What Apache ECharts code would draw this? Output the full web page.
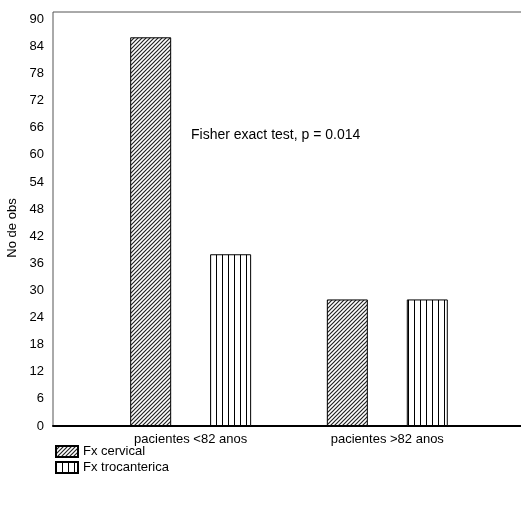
<!DOCTYPE html>
<html>
<head>
<meta charset="utf-8">
<script src="https://cdn.jsdelivr.net/npm/echarts@6/dist/echarts.min.js"></script>
<style>
  html, body { margin: 0; padding: 0; background: #fff; }
  #main { width: 521px; height: 508px; }
</style>
</head>
<body>
<div id="main"></div>
<script>
  // categorias e valores
  var categories = ['pacientes <82 anos', 'pacientes >82 anos'];
  var catPos = [1, 2];
  var cervical = [86, 28];
  var trocanterica = [38, 28];
  var yTicks = { min: 0, max: 91.6, interval: 6 };

  // hachuras (padroes) para as barras
  function hatchDiag() {
    var c = document.createElement('canvas');
    c.width = 4; c.height = 4;
    var g = c.getContext('2d');
    g.fillStyle = '#fff';
    g.fillRect(0, 0, 4, 4);
    g.strokeStyle = '#222';
    g.lineWidth = 1.2;
    g.beginPath();
    g.moveTo(0, 4); g.lineTo(4, 0);
    g.moveTo(-1, 1); g.lineTo(1, -1);
    g.moveTo(3, 5); g.lineTo(5, 3);
    g.stroke();
    return c;
  }
  function hatchVert() {
    var c = document.createElement('canvas');
    c.width = 6; c.height = 6;
    var g = c.getContext('2d');
    g.fillStyle = '#fff';
    g.fillRect(0, 0, 6, 6);
    g.fillStyle = '#000';
    g.fillRect(0, 0, 1, 6);
    return c;
  }

  var font = 'Liberation Sans, Arial, sans-serif';
  var myChart = echarts.init(document.getElementById('main'));
  myChart.setOption({
    backgroundColor: '#fff',
    animation: false,
    textStyle: { fontFamily: font },
    title: {
      text: 'Fisher exact test, p = 0.014',
      left: 186,
      top: 123,
      textStyle: { fontSize: 14, fontWeight: 'normal', color: '#000', fontFamily: font }
    },
    legend: {
      orient: 'vertical',
      left: 50,
      top: 440,
      itemWidth: 22,
      itemHeight: 11,
      itemGap: 3,
      icon: 'rect',
      textStyle: { fontSize: 13, color: '#000', fontFamily: font },
      data: ['Fx cervical', 'Fx trocanterica']
    },
    grid: {
      show: true,
      left: 53,
      top: 12,
      right: -2,
      bottom: 82,
      outerBoundsMode: 'none',
      containLabel: false,
      borderColor: '#555',
      borderWidth: 1
    },
    xAxis: {
      type: 'value',
      min: 0.3,
      max: 2.69,
      splitLine: { show: false },
      axisTick: { show: false },
      axisLine: { show: true, lineStyle: { color: '#000', width: 2 } },
      axisLabel: {
        customValues: catPos,
        margin: 7,
        fontSize: 13,
        color: '#000',
        fontFamily: font,
        formatter: function (v) {
          return categories[catPos.indexOf(v)] || '';
        }
      }
    },
    yAxis: {
      type: 'value',
      min: yTicks.min,
      max: yTicks.max,
      interval: yTicks.interval,
      name: 'No de obs',
      nameLocation: 'middle',
      nameGap: 31,
      nameRotate: 90,
      nameTextStyle: { fontSize: 13, color: '#000', fontFamily: font, padding: [0, 18, 0, 0] },
      splitLine: { show: false },
      axisTick: { show: false },
      axisLine: { show: false },
      axisLabel: {
        showMaxLabel: false,
        margin: 9,
        fontSize: 13,
        color: '#000',
        fontFamily: font
      }
    },
    series: [{
      name: 'Fx cervical',
      type: 'bar',
      barWidth: 41,
      barGap: '95%',
      itemStyle: {
        color: { image: hatchDiag(), repeat: 'repeat' },
        borderColor: '#000',
        borderWidth: 1
      },
      data: catPos.map(function (x, i) { return [x, cervical[i]]; })
    }, {
      name: 'Fx trocanterica',
      type: 'bar',
      barWidth: 41,
      barGap: '95%',
      itemStyle: {
        color: { image: hatchVert(), repeat: 'repeat' },
        borderColor: '#000',
        borderWidth: 1
      },
      data: catPos.map(function (x, i) { return [x, trocanterica[i]]; })
    }]
  });
</script>
</body>
</html>
